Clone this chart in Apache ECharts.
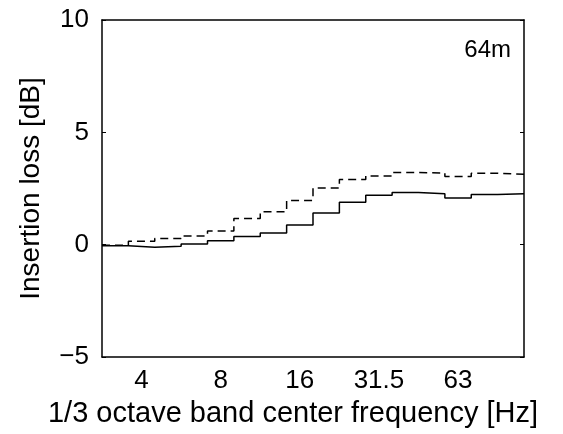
<!DOCTYPE html>
<html>
<head>
<meta charset="utf-8">
<script src="https://cdn.jsdelivr.net/npm/echarts@6/dist/echarts.min.js"></script>
<style>
  html, body { margin: 0; padding: 0; background: #fff; }
  #chart { width: 563px; height: 434px; }
</style>
</head>
<body>
<div id="chart"></div>
<script>
// 1/3 octave bands (3.15 .. 100 Hz)
var bands = ['3.15', '4', '5', '6.3', '8', '10', '12.5', '16', '20', '25', '31.5', '40', '50', '63', '80', '100'];
var shownLabels = ['4', '8', '16', '31.5', '63'];
// insertion loss per band [dB]
var lossSolid  = [-0.05, -0.12, -0.07, 0.03, 0.17, 0.36, 0.52, 0.88, 1.41, 1.89, 2.20, 2.32, 2.27, 2.08, 2.23, 2.27];
var lossDashed = [-0.03, 0.15, 0.27, 0.39, 0.61, 1.17, 1.46, 1.97, 2.52, 2.90, 3.06, 3.21, 3.19, 3.03, 3.18, 3.13];
var yTicks = [-5, 0, 5, 10];

// each band drawn as a flat step over its width (band index i .. i+1)
function toSteps(vals) {
    var out = [];
    for (var i = 0; i < vals.length; i++) {
        out.push([i, vals[i]]);
    }
    out.push([vals.length, vals[vals.length - 1]]);
    return out;
}

var font = 'Liberation Sans, Arial, sans-serif';
var fs = 26;      // tick labels
var fsName = 28;  // axis titles
var myChart = echarts.init(document.getElementById('chart'));

var option = {
    backgroundColor: '#fff',
    animation: false,
    grid: { left: 102, right: 39, top: 20, bottom: 77 },
    title: {
        text: '64m',
        right: 47, top: 33,
        textStyle: { fontFamily: font, fontSize: 24, fontWeight: 'normal', color: '#000' }
    },
    xAxis: [{
        type: 'category',
        data: bands,
        position: 'bottom',
        boundaryGap: true,
        name: '1/3 octave band center frequency [Hz]',
        nameLocation: 'middle',
        nameGap: 42,
        nameTextStyle: { fontFamily: font, fontSize: 29, color: '#000', padding: [0, 40, 0, 0] },
        axisLine: { onZero: false, lineStyle: { color: '#000', width: 1.5 } },
        axisTick: { alignWithLabel: true, inside: true, length: 4, lineStyle: { color: '#000', width: 1 } },
        axisLabel: {
            interval: 0, margin: 11, fontFamily: font, fontSize: fs, color: '#000',
            formatter: function (v) { return shownLabels.indexOf(v) >= 0 ? v : ''; }
        },
        splitLine: { show: false }
    }, {
        type: 'category',
        data: bands,
        position: 'top',
        boundaryGap: true,
        axisLine: { onZero: false, lineStyle: { color: '#000', width: 1.5 } },
        axisTick: { alignWithLabel: true, inside: true, length: 4, lineStyle: { color: '#000', width: 1 } },
        axisLabel: { show: false },
        splitLine: { show: false }
    }, {
        type: 'value',
        min: 0, max: bands.length,
        show: false
    }],
    yAxis: [{
        type: 'value',
        min: yTicks[0], max: yTicks[yTicks.length - 1], interval: 5,
        name: 'Insertion loss [dB]',
        nameLocation: 'middle',
        nameGap: 57,
        nameTextStyle: { fontFamily: font, fontSize: fsName, color: '#000' },
        axisLine: { show: true, onZero: false, lineStyle: { color: '#000', width: 1.5 } },
        axisTick: { show: true, inside: true, length: 4, lineStyle: { color: '#000', width: 1 } },
        axisLabel: {
            margin: 13, fontFamily: font, fontSize: fs, color: '#000',
            formatter: function (v) { return v < 0 ? '\u2212' + Math.abs(v) : String(v); }
        },
        splitLine: { show: false }
    }, {
        type: 'value',
        position: 'right',
        min: yTicks[0], max: yTicks[yTicks.length - 1], interval: 5,
        axisLine: { show: true, onZero: false, lineStyle: { color: '#000', width: 1.5 } },
        axisTick: { show: true, inside: true, length: 4, lineStyle: { color: '#000', width: 1 } },
        axisLabel: { show: false },
        splitLine: { show: false }
    }],
    series: [{
        name: 'solid',
        type: 'line',
        xAxisIndex: 2,
        yAxisIndex: 0,
        step: 'end',
        symbol: 'none',
        data: toSteps(lossSolid),
        lineStyle: { color: '#000', width: 1.5, type: 'solid' }
    }, {
        name: 'dashed',
        type: 'line',
        xAxisIndex: 2,
        yAxisIndex: 0,
        step: 'end',
        symbol: 'none',
        data: toSteps(lossDashed),
        lineStyle: { color: '#000', width: 1.5, type: [8, 5] }
    }]
};
myChart.setOption(option);
</script>
</body>
</html>
